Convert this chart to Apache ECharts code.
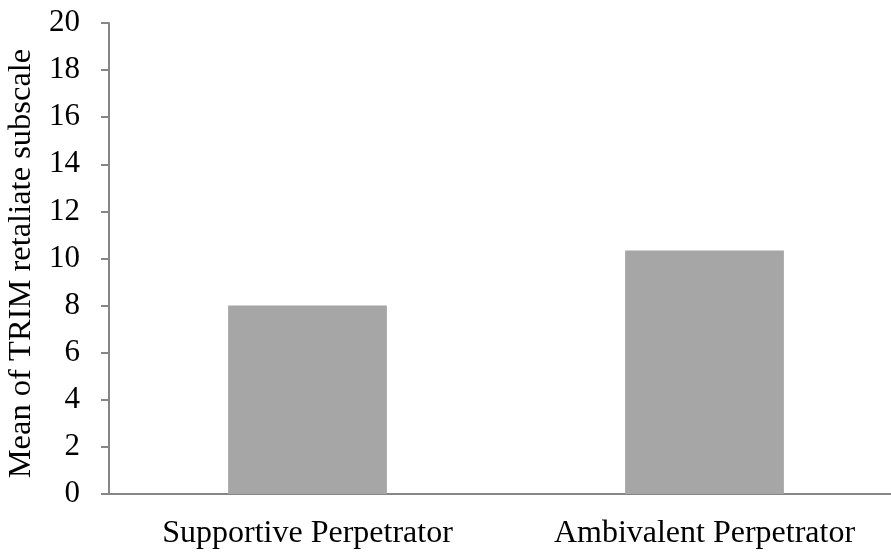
<!DOCTYPE html>
<html>
<head>
<meta charset="utf-8">
<script src="https://cdn.jsdelivr.net/npm/echarts@6/dist/echarts.min.js"></script>
<style>html,body{margin:0;padding:0;background:#fff}#c{width:891px;height:552px}</style>
</head>
<body>
<div id="c"></div>
<script>
var categories = ['Supportive Perpetrator', 'Ambivalent Perpetrator'];
var values = [8.0, 10.34];
var yAxisName = 'Mean of TRIM retaliate subscale';

var chart = echarts.init(document.getElementById('c'), null, {renderer: 'canvas'});
var font = '"Liberation Serif", "Times New Roman", serif';
chart.setOption({
  animation: false,
  grid: {left: 109, width: 794, top: 23, height: 471, containLabel: false, outerBoundsMode: 'none'},
  xAxis: {
    type: 'category',
    data: categories,
    axisLine: {lineStyle: {color: '#868686', width: 2}},
    axisTick: {show: false},
    axisLabel: {color: '#000', fontFamily: font, fontSize: 32, margin: 24, interval: 0},
    splitLine: {show: false}
  },
  yAxis: {
    type: 'value',
    min: 0, max: 20, interval: 2,
    name: yAxisName,
    nameLocation: 'middle',
    nameGap: 67,
    nameTextStyle: {color: '#000', fontFamily: font, fontSize: 32.5, padding: [0, 10, 0, 0]},
    axisLine: {show: true, lineStyle: {color: '#868686', width: 2}},
    axisTick: {show: true, length: 8, lineStyle: {color: '#868686', width: 2}},
    axisLabel: {color: '#000', fontFamily: font, fontSize: 31, margin: 29},
    splitLine: {show: false}
  },
  series: [{
    type: 'bar',
    data: values,
    barWidth: '40%',
    itemStyle: {color: '#A6A6A6'}
  }]
});
</script>
</body>
</html>
